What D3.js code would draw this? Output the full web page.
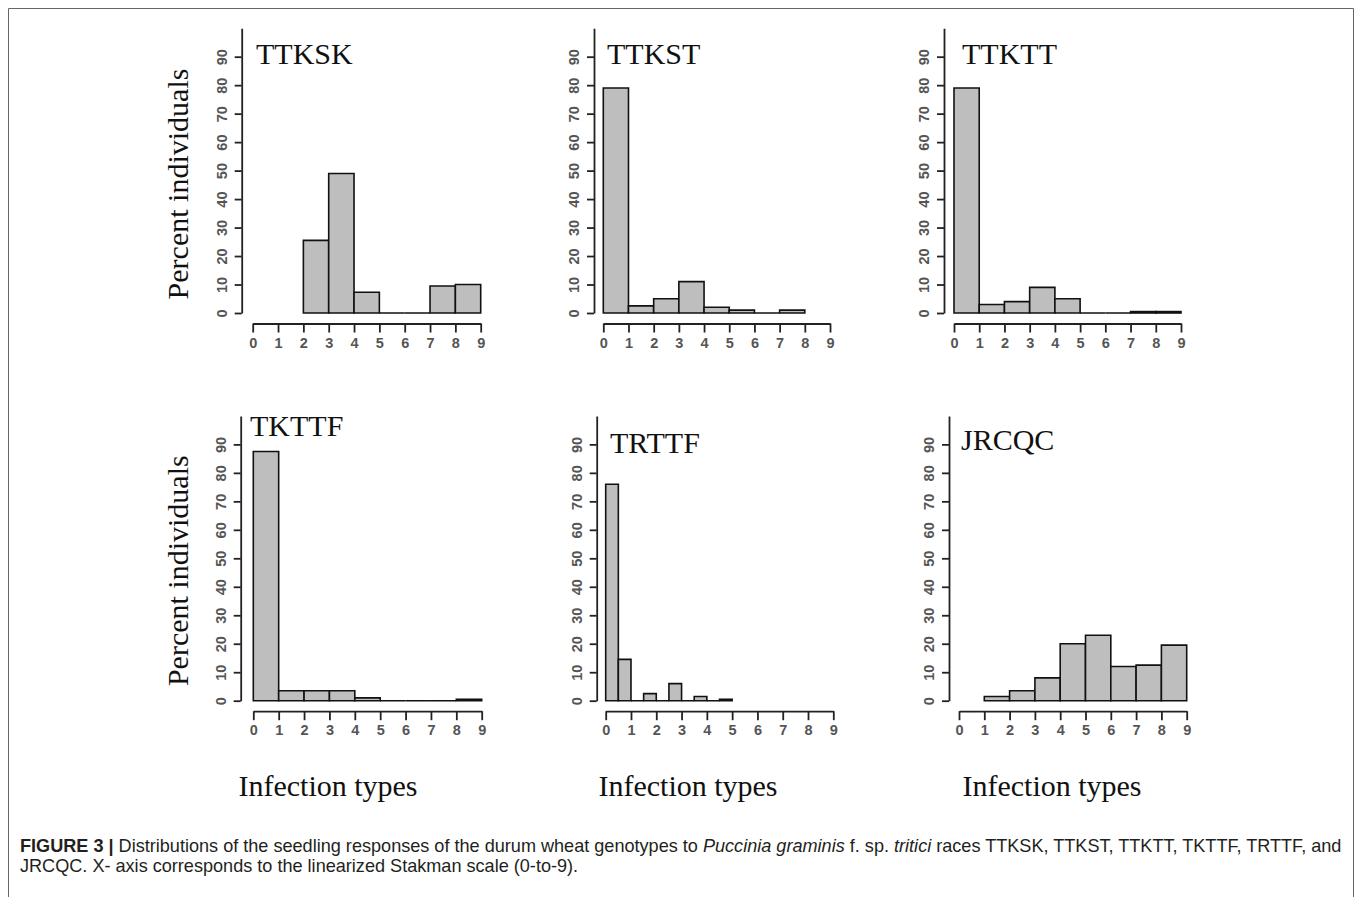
<!DOCTYPE html>
<html>
<head>
<meta charset="utf-8">
<script src="https://cdn.jsdelivr.net/npm/d3@7"></script>
<style>
  html, body { margin: 0; padding: 0; background: #fff; }
  svg { display: block; }
</style>
</head>
<body>
<svg id="chart" width="1358" height="897"></svg>
<script>
// ---------------- DATA ----------------
const races = ["TTKSK", "TTKST", "TTKTT", "TKTTF", "TRTTF", "JRCQC"];
const firstBreak = [2, 0, 0, 0, 0, 1];
const binWidth = [1, 1, 1, 1, 0.5, 1];
const pctTTKSK = [25.5, 49, 7.3, 0, 0, 9.5, 10];
const pctTTKST = [79, 2.5, 5, 11, 2, 1, 0, 1];
const pctTTKTT = [79, 3, 4, 9, 5, 0, 0, 0.5, 0.5];
const pctTKTTF = [87.5, 3.5, 3.5, 3.5, 1, 0, 0, 0, 0.5];
const pctTRTTF = [76, 14.5, 0, 2.5, 0, 6, 0, 1.5, 0, 0.5];
const pctJRCQC = [1.5, 3.5, 8, 20, 23, 12, 12.5, 19.5];
const seriesValues = [pctTTKSK, pctTTKST, pctTTKTT, pctTKTTF, pctTRTTF, pctJRCQC];
const xTickLabels = [0, 1, 2, 3, 4, 5, 6, 7, 8, 9];
const yTickLabels = [0, 10, 20, 30, 40, 50, 60, 70, 80, 90];
const yLabel = "Percent individuals";
const xLabel = "Infection types";

// ---------------- LAYOUT ----------------
const panels = [
  { yAxisX: 241.7, x0: 252.7, x9: 480.7, y0: 313,   tx: 256, ty: 64 },
  { yAxisX: 594,   x0: 603.3, x9: 830,   y0: 313,   tx: 607, ty: 64 },
  { yAxisX: 944,   x0: 954,   x9: 1181,  y0: 313,   tx: 962, ty: 64 },
  { yAxisX: 240.7, x0: 253.3, x9: 481.7, y0: 700.7, tx: 250, ty: 436 },
  { yAxisX: 596.7, x0: 605.7, x9: 833.3, y0: 700.7, tx: 610, ty: 453 },
  { yAxisX: 949,   x0: 959,   x9: 1186.7, y0: 700.7, tx: 961, ty: 450 }
];
const pxPerPct = 2.848;
const serif = "'Liberation Serif', 'Times New Roman', serif";
const sans = "'Liberation Sans', Arial, sans-serif";

const svg = d3.select("#chart");

// frame
svg.append("path")
  .attr("d", "M8.5,905 V8.5 H1353.5 V905")
  .attr("fill", "none").attr("stroke", "#666").attr("stroke-width", 1);

panels.forEach((p, i) => {
  const x = d3.scaleLinear().domain([0, 9]).range([p.x0, p.x9]);
  const y = d3.scaleLinear().domain([0, 100]).range([p.y0, p.y0 - 100 * pxPerPct]);
  const g = svg.append("g");

  const bins = seriesValues[i].map((v, k) => ({
    x0: firstBreak[i] + k * binWidth[i],
    x1: firstBreak[i] + (k + 1) * binWidth[i],
    v
  }));

  g.selectAll("path.bar").data(bins).join("path")
    .attr("class", "bar")
    .attr("d", d => `M${x(d.x0)},${y(0)}V${y(d.v)}H${x(d.x1)}V${y(0)}Z`)
    .attr("fill", "#bebebe")
    .attr("stroke", "#111")
    .attr("stroke-width", 1.6)
    .attr("stroke-linejoin", "miter");

  // y axis
  const ya = g.append("g")
    .attr("transform", `translate(${p.yAxisX},0)`)
    .call(d3.axisLeft(y).tickValues(yTickLabels).tickSize(7).tickSizeOuter(0).tickFormat(d3.format("d")));
  ya.select(".domain").attr("stroke", "#222").attr("stroke-width", 1.8);
  ya.selectAll(".tick line").attr("stroke", "#222").attr("stroke-width", 1.8);
  ya.selectAll(".tick text")
    .attr("x", null).attr("dy", null)
    .attr("transform", "translate(-20,0) rotate(-90)")
    .attr("text-anchor", "middle")
    .attr("dominant-baseline", "central")
    .attr("font-family", sans).attr("font-size", 14.5).attr("font-weight", "bold").attr("fill", "#555");

  // x axis
  const xa = g.append("g")
    .attr("transform", `translate(0,${p.y0 + 10.5})`)
    .call(d3.axisBottom(x).tickValues(xTickLabels).tickSize(9).tickSizeOuter(0));
  xa.select(".domain").attr("stroke", "#222").attr("stroke-width", 1.8);
  xa.selectAll(".tick line").attr("stroke", "#222").attr("stroke-width", 1.8);
  xa.selectAll(".tick text")
    .attr("y", 24).attr("dy", null)
    .attr("font-family", sans).attr("font-size", 14.5).attr("font-weight", "bold").attr("fill", "#555");

  // panel title
  g.append("text")
    .attr("x", p.tx).attr("y", p.ty)
    .attr("font-family", serif).attr("font-size", 30).attr("fill", "#111")
    .text(races[i]);
});

svg.selectAll("text.ylab").data([184, 570.7]).join("text")
  .attr("class", "ylab")
  .attr("transform", d => `translate(188,${d}) rotate(-90)`)
  .attr("text-anchor", "middle")
  .attr("font-family", serif).attr("font-size", 30).attr("fill", "#111")
  .text(yLabel);

svg.selectAll("text.xlab").data([328, 688, 1052]).join("text")
  .attr("class", "xlab")
  .attr("x", d => d).attr("y", 796)
  .attr("text-anchor", "middle")
  .attr("font-family", serif).attr("font-size", 30).attr("fill", "#111")
  .text(xLabel);

// caption
const cap = svg.append("g").attr("font-family", sans).attr("font-size", 18.1).attr("fill", "#231f20");
const l1 = cap.append("text").attr("x", 20).attr("y", 852);
l1.append("tspan").attr("font-weight", "bold").text("FIGURE 3 | ");
l1.append("tspan").text("Distributions of the seedling responses of the durum wheat genotypes to ");
l1.append("tspan").attr("font-style", "italic").text("Puccinia graminis");
l1.append("tspan").text(" f. sp. ");
l1.append("tspan").attr("font-style", "italic").text("tritici");
l1.append("tspan").text(" races TTKSK, TTKST, TTKTT, TKTTF, TRTTF, and");
cap.append("text").attr("x", 20).attr("y", 872)
  .text("JRCQC. X- axis corresponds to the linearized Stakman scale (0-to-9).");
</script>
</body>
</html>
